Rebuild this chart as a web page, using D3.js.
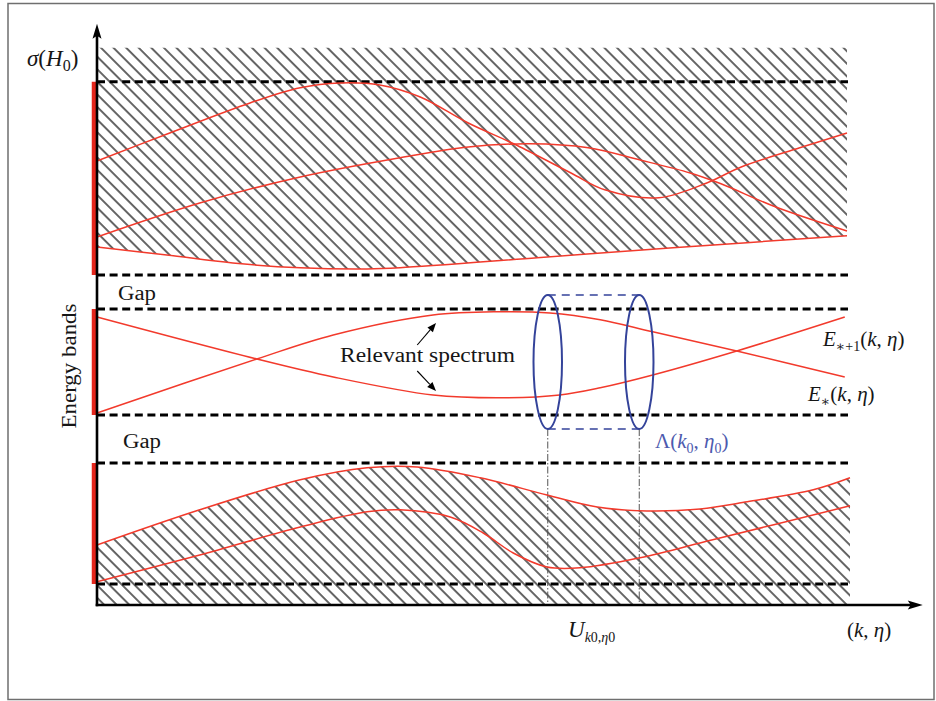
<!DOCTYPE html>
<html>
<head>
<meta charset="utf-8">
<script src="https://cdn.jsdelivr.net/npm/d3@7"></script>
<style>
  html, body { margin: 0; padding: 0; background: #fff; }
  svg { display: block; }
  text { font-family: "Liberation Serif", "DejaVu Serif", serif; fill: #161616; }
</style>
</head>
<body>
<svg id="chart" width="936" height="701"></svg>
<script>
// ---- data (k along the horizontal axis, E = energy) ----
const bandEdges = [[8.25, 13.08], [4.75, 7.40], [0.525, 3.55]];   // red bars on the energy axis
const bandLevels = [13.08, 8.25, 7.40, 4.75, 3.55, 0.525];        // dashed band edges
const upperBandTop = 13.93;                                        // top of the hatched continuum
const kEnd = 10.0;

// upper band (continuum)
const upperCurveA = [[0,11.10],[0.97,11.80],[2.04,12.55],[2.71,12.93],[3.24,13.05],[3.77,13.00],[4.31,12.70],[4.95,12.05],[5.59,11.50],[6.32,10.80],[6.77,10.38],[7.49,10.18],[8.13,10.55],[8.59,10.95],[9.37,11.43],[10.0,11.80]];
const upperCurveB = [[0,9.20],[1.37,10.05],[2.71,10.70],[4.04,11.18],[4.95,11.45],[5.77,11.53],[6.55,11.43],[7.23,11.13],[7.91,10.80],[8.32,10.53],[9.05,9.95],[10.0,9.35]];
const upperCurveC = [[0,8.95],[0.93,8.75],[1.81,8.55],[2.71,8.43],[3.60,8.40],[4.04,8.43],[5.87,8.68],[7.68,8.93],[10.0,9.23]];

// relevant spectrum
const eStarPlus1 = [[0,7.20],[2.13,6.15],[3.15,5.70],[4.48,5.25],[5.37,5.18],[6.17,5.25],[6.71,5.43],[7.41,5.75],[8.53,6.35],[9.97,7.20]];
const eStar      = [[0,4.80],[2.13,6.15],[3.15,6.75],[4.48,7.25],[5.37,7.33],[6.04,7.30],[6.71,7.13],[7.41,6.83],[8.53,6.35],[9.97,5.70]];

// lower band (continuum)
const lowerCurveA = [[0,1.50],[1.37,2.38],[2.71,3.13],[3.60,3.43],[4.27,3.45],[5.11,3.18],[6.00,2.75],[6.67,2.45],[7.33,2.35],[8.04,2.40],[8.67,2.58],[9.55,2.88],[10.04,3.18]];
const lowerCurveB = [[0,0.58],[1.37,1.25],[2.71,1.95],[3.60,2.33],[4.04,2.38],[4.71,2.20],[5.15,1.80],[5.55,1.30],[6.00,0.95],[6.44,0.93],[7.24,1.18],[8.21,1.63],[10.04,2.48]];

// neighbourhood Λ(k0, η0)
const lambdaK = [6.01, 7.23];
const lambdaE = [4.40, 7.75];
const lambdaRx = 0.19;

// ---- scales ----
const x = d3.scaleLinear().domain([0, 10]).range([97, 847]);
const y = d3.scaleLinear().domain([0, 14]).range([605, 45]);
const kAxisEnd = 11.01, eAxisEnd = 14.53;

const svg = d3.select("#chart");
const defs = svg.append("defs");

// diagonal hatch
const hatch = defs.append("pattern")
  .attr("id", "hatch").attr("patternUnits", "userSpaceOnUse")
  .attr("width", 8.9).attr("height", 20)
  .attr("patternTransform", "rotate(-45)");
hatch.append("line").attr("x1", 2).attr("x2", 2).attr("y1", -2).attr("y2", 22)
  .attr("stroke", "#141414").attr("stroke-width", 1.3);

// frame
svg.append("rect").attr("x", 8).attr("y", 3.5).attr("width", 926).attr("height", 696)
  .attr("fill", "none").attr("stroke", "#6f6f6f").attr("stroke-width", 1.5);

const curve = d3.curveCatmullRom.alpha(0.5);
const line = d3.line().x(d => x(d[0])).y(d => y(d[1])).curve(curve);

// hatched continuum regions
svg.append("path")
  .datum(upperCurveC)
  .attr("d", d3.area().x(d => x(d[0])).y0(y(upperBandTop)).y1(d => y(d[1])).curve(curve))
  .attr("fill", "url(#hatch)");
svg.append("path")
  .datum(lowerCurveA)
  .attr("d", d3.area().x(d => x(d[0])).y0(y(0)).y1(d => y(d[1])).curve(curve))
  .attr("fill", "url(#hatch)");

// dashed band edges
svg.append("g").selectAll("line").data(bandLevels).join("line")
  .attr("x1", x(0)).attr("x2", x(kEnd) + 1)
  .attr("y1", d => y(d)).attr("y2", d => y(d))
  .attr("stroke", "#000").attr("stroke-width", 3)
  .attr("stroke-dasharray", "8,4.6");

// dash-dot projections of Λ onto the k axis
svg.append("g").selectAll("line").data(lambdaK).join("line")
  .attr("x1", d => x(d)).attr("x2", d => x(d))
  .attr("y1", y(lambdaE[0])).attr("y2", y(0))
  .attr("stroke", "#555").attr("stroke-width", 1)
  .attr("stroke-dasharray", "7,2,1.5,2");

// spectrum curves
const redCurves = [upperCurveA, upperCurveB, upperCurveC, eStarPlus1, eStar, lowerCurveA, lowerCurveB];
svg.append("g").selectAll("path").data(redCurves).join("path")
  .attr("d", line).attr("fill", "none")
  .attr("stroke", "#f23a2c").attr("stroke-width", 1.5);

// Λ(k0, η0): two ellipses joined by dashed lines
const blue = "#34439a";
svg.append("g").selectAll("line").data(lambdaE).join("line")
  .attr("x1", x(lambdaK[0])).attr("x2", x(lambdaK[1]))
  .attr("y1", d => y(d)).attr("y2", d => y(d))
  .attr("stroke", blue).attr("stroke-width", 1.5).attr("stroke-dasharray", "8,6");
svg.append("g").selectAll("ellipse").data(lambdaK).join("ellipse")
  .attr("cx", d => x(d)).attr("cy", y((lambdaE[0] + lambdaE[1]) / 2))
  .attr("rx", x(lambdaRx) - x(0)).attr("ry", (y(lambdaE[0]) - y(lambdaE[1])) / 2)
  .attr("fill", "none").attr("stroke", blue).attr("stroke-width", 2);

// red bars marking each energy band
svg.append("g").selectAll("line").data(bandEdges).join("line")
  .attr("x1", x(0) - 3).attr("x2", x(0) - 3)
  .attr("y1", d => y(d[0])).attr("y2", d => y(d[1]))
  .attr("stroke", "#e4261c").attr("stroke-width", 4.5);

// axes with arrowheads
svg.append("line").attr("x1", x(0)).attr("x2", x(0)).attr("y1", y(0) + 1.2).attr("y2", y(eAxisEnd) + 10)
  .attr("stroke", "#000").attr("stroke-width", 2.6);
svg.append("line").attr("x1", x(0) - 1.3).attr("x2", x(kAxisEnd) - 10).attr("y1", y(0)).attr("y2", y(0))
  .attr("stroke", "#000").attr("stroke-width", 2.6);
svg.append("path")
  .attr("d", `M${x(0)},${y(eAxisEnd)} L${x(0) + 4.5},${y(eAxisEnd) + 15} L${x(0)},${y(eAxisEnd) + 12} L${x(0) - 4.5},${y(eAxisEnd) + 15} Z`)
  .attr("fill", "#000");
svg.append("path")
  .attr("d", `M${x(kAxisEnd)},${y(0)} L${x(kAxisEnd) - 15},${y(0) - 4.5} L${x(kAxisEnd) - 12},${y(0)} L${x(kAxisEnd) - 15},${y(0) + 4.5} Z`)
  .attr("fill", "#000");

// labelled arrows pointing at the relevant spectrum
const pointerArrows = [[[4.27, 6.50], [4.52, 7.05]], [[4.27, 5.85], [4.52, 5.35]]];
pointerArrows.forEach(([a, b]) => {
  const x1 = x(a[0]), y1 = y(a[1]), x2 = x(b[0]), y2 = y(b[1]);
  const ang = Math.atan2(y2 - y1, x2 - x1);
  const L = 9, W = 3.6;
  const bx = x2 - L * Math.cos(ang), by = y2 - L * Math.sin(ang);
  svg.append("line").attr("x1", x1).attr("y1", y1).attr("x2", bx).attr("y2", by)
    .attr("stroke", "#000").attr("stroke-width", 1.1);
  svg.append("path")
    .attr("d", `M${x2},${y2} L${bx - W * Math.sin(ang)},${by + W * Math.cos(ang)} L${bx + W * Math.sin(ang)},${by - W * Math.cos(ang)} Z`)
    .attr("fill", "#000");
});

// ---- text ----
function richText(px, py, parts, opts = {}) {
  const size = opts.size || 21, subSize = opts.subSize || 14;
  const t = svg.append("text").attr("x", px).attr("y", py).attr("font-size", size);
  if (opts.fill) t.style("fill", opts.fill);
  let shift = 0;
  parts.forEach(p => {
    const target = p.sub ? 5 : 0;
    t.append("tspan").text(p.t)
      .attr("font-style", p.it ? "italic" : "normal")
      .attr("font-size", p.sub ? subSize : (p.size || size))
      .attr("dy", target - shift);
    shift = target;
  });
  return t;
}

function plainText(px, py, str, width, transform) {
  const t = svg.append("text").attr("x", px).attr("y", py).attr("font-size", 20)
    .attr("textLength", width).attr("lengthAdjust", "spacingAndGlyphs").text(str);
  if (transform) t.attr("transform", transform).attr("text-anchor", "middle");
  return t;
}

richText(27, 66, [{t: "σ", it: true}, {t: "("}, {t: "H", it: true}, {t: "0", sub: true}, {t: ")"}], {size: 23, subSize: 16});

plainText(0, 0, "Energy bands", 125, "translate(76,366) rotate(-90)");
plainText(118, 300, "Gap", 38);
plainText(123, 448, "Gap", 38);
plainText(340, 362, "Relevant spectrum", 175);

richText(823, 346, [{t: "E", it: true}, {t: "∗+1", sub: true}, {t: "("}, {t: "k", it: true}, {t: ", "}, {t: "η", it: true}, {t: ")"}]);
richText(808, 401, [{t: "E", it: true}, {t: "∗", sub: true}, {t: "("}, {t: "k", it: true}, {t: ", "}, {t: "η", it: true}, {t: ")"}]);
richText(655, 448, [{t: "Λ"}, {t: "("}, {t: "k", it: true}, {t: "0", sub: true}, {t: ", "}, {t: "η", it: true}, {t: "0", sub: true}, {t: ")"}],
  {fill: "#4d5aae"});
richText(568, 637, [{t: "U", it: true, size: 23}, {t: "k", it: true, sub: true}, {t: "0", sub: true}, {t: ",", sub: true}, {t: "η", it: true, sub: true}, {t: "0", sub: true}],
  {subSize: 14});
richText(847, 637, [{t: "("}, {t: "k", it: true}, {t: ", "}, {t: "η", it: true}, {t: ")"}]);
</script>
</body>
</html>
